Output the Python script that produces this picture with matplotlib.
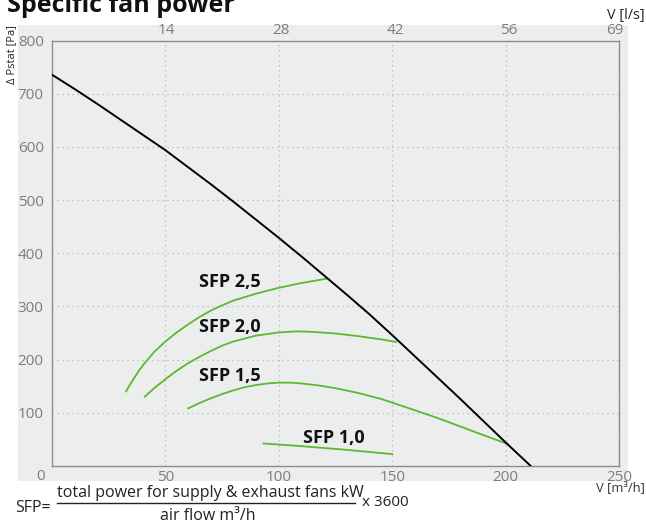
import matplotlib
matplotlib.use("Agg")
import matplotlib.pyplot as plt
from matplotlib.patches import Rectangle
from matplotlib.lines import Line2D

plt.rcParams['font.family'] = ['Open Sans', 'DejaVu Sans']

# ===============================
# DATA
# ===============================

# fan curve, airflow m3/h -> static pressure Pa
fan_v = [0, 10, 20, 30, 40, 50, 60, 70, 80, 90, 100, 110, 120, 130, 140, 150, 160, 170, 180, 190, 200, 211]
fan_p = [736, 709, 681, 652, 623, 594, 562, 530, 497, 463, 429, 394, 358, 322, 285, 246, 206, 166, 126, 85, 44, 0]

sfp25_v = [32.6, 35, 38, 41, 45, 50, 55, 60, 65, 70, 75, 80, 90, 100, 110, 120.9]
sfp25_p = [140, 157, 177, 194, 214, 234, 251, 266, 280, 292, 302, 311, 324, 335, 344, 352]

sfp20_v = [40.9, 45, 50, 55, 60, 65, 70, 75, 80, 90, 100, 108, 115, 125, 135, 145, 151.7]
sfp20_p = [130, 146, 163, 179, 193, 205, 216, 226, 234, 245, 251, 253, 252, 249, 244, 238, 233]

sfp15_v = [60, 65, 70, 75, 80, 85, 90, 95, 100, 105, 110, 118, 125, 135, 145, 157.6, 170, 185, 200.9]
sfp15_p = [108, 118, 127, 135, 142, 148, 152, 155, 156.5, 156.5, 155, 151, 146, 137, 126, 108, 90, 66, 41]

sfp10_v = [93.3, 110, 130, 150]
sfp10_p = [42, 37, 30, 22]

sfp_labels = ["SFP 2,5", "SFP 2,0", "SFP 1,5", "SFP 1,0"]
label_v = [65, 65, 65, 110.5]
label_p = [345, 262, 169, 52]

x_ticks = [50, 100, 150, 200, 250]
y_ticks = [100, 200, 300, 400, 500, 600, 700, 800]
top_ticks = [14, 28, 42, 56, 69]

# ===============================
# FIGURE
# ===============================

W, H = 646, 522
fig = plt.figure(figsize=(W / 100, H / 100), dpi=100)
fig.patch.set_facecolor('white')

bg = '#eceeed'
fig.patches.append(Rectangle((18 / W, 1 - 481 / H), (628 - 18) / W, (481 - 25) / H,
                             transform=fig.transFigure, facecolor=bg, edgecolor='none', zorder=-5))

ax = fig.add_axes([52 / W, 1 - 465.8 / H, (619 - 52) / W, (465.8 - 40.7) / H])
ax.set_facecolor(bg)

green = '#5cb832'
ax.plot(sfp25_v, sfp25_p, color=green, lw=1.3, zorder=3)
ax.plot(sfp20_v, sfp20_p, color=green, lw=1.3, zorder=3)
ax.plot(sfp15_v, sfp15_p, color=green, lw=1.3, zorder=3)
ax.plot(sfp10_v, sfp10_p, color=green, lw=1.3, zorder=3)
ax.plot(fan_v, fan_p, color='black', lw=1.4, zorder=4)

for t, v, p in zip(sfp_labels, label_v, label_p):
    ax.text(v, p, t, fontsize=13, fontweight='bold', color='#111111',
            ha='left', va='center', zorder=5)

ax.set_xlim(0, 250)
ax.set_ylim(0, 800)
ax.set_xticks(x_ticks)
ax.set_yticks(y_ticks)
ax.set_xticklabels([str(v) for v in x_ticks])
ax.set_yticklabels([str(v) for v in y_ticks])
ax.tick_params(length=0, labelsize=11, labelcolor='#7d7d7d')
ax.tick_params(axis='x', pad=3)
ax.tick_params(axis='y', pad=6)

ax.grid(True, color='#b5b5b5', lw=0.9, linestyle=(0, (1, 3)))
ax.set_axisbelow(True)
for s in ax.spines.values():
    s.set_color('#8c8c8c')
    s.set_linewidth(1.0)

top = ax.secondary_xaxis('top', functions=(lambda v: v / 3.6, lambda q: q * 3.6))
top.set_xticks(top_ticks)
top.set_xticklabels([str(v) for v in top_ticks])
top.tick_params(length=0, labelsize=11, labelcolor='#7d7d7d', pad=2)
top.spines['top'].set_visible(False)

# corner zero
fig.text(41 / W, 1 - 477 / H, "0", fontsize=11, color='#7d7d7d', ha='center', va='center')

# axis captions
fig.text(645 / W, 1 - 15 / H, "V [l/s]", fontsize=10.4, color='#222222', ha='right', va='center')
fig.text(645 / W, 1 - 488 / H, "V [m³/h]", fontsize=9.4, color='#333333', ha='right', va='center')
fig.text(12 / W, 1 - 25 / H, "Δ Pstat [Pa]", fontsize=8, color='#222222', rotation=90,
         ha='center', va='top')

# title, partly cut at the top edge as in the reference
fig.text(7 / W, 1 - 12 / H, "Specific fan power", fontsize=18, fontweight='bold',
         color='#111111', ha='left', va='baseline')

# SFP formula
fig.text(15 / W, 1 - 508 / H, "SFP=", fontsize=11.5, color='#222222', ha='left', va='center')
fig.text(57 / W, 1 - 493 / H, "total power for supply & exhaust fans kW", fontsize=11.5,
         color='#222222', ha='left', va='center')
fig.lines.append(Line2D([57 / W, 355 / W], [1 - 503 / H, 1 - 503 / H],
                        transform=fig.transFigure, color='#222222', lw=1.0))
fig.text(208 / W, 1 - 516 / H, "air flow m³/h", fontsize=11.5, color='#222222',
         ha='center', va='center')
fig.text(362 / W, 1 - 502 / H, "x 3600", fontsize=11, color='#222222', ha='left', va='center')

fig.savefig("out.png", dpi=100)
